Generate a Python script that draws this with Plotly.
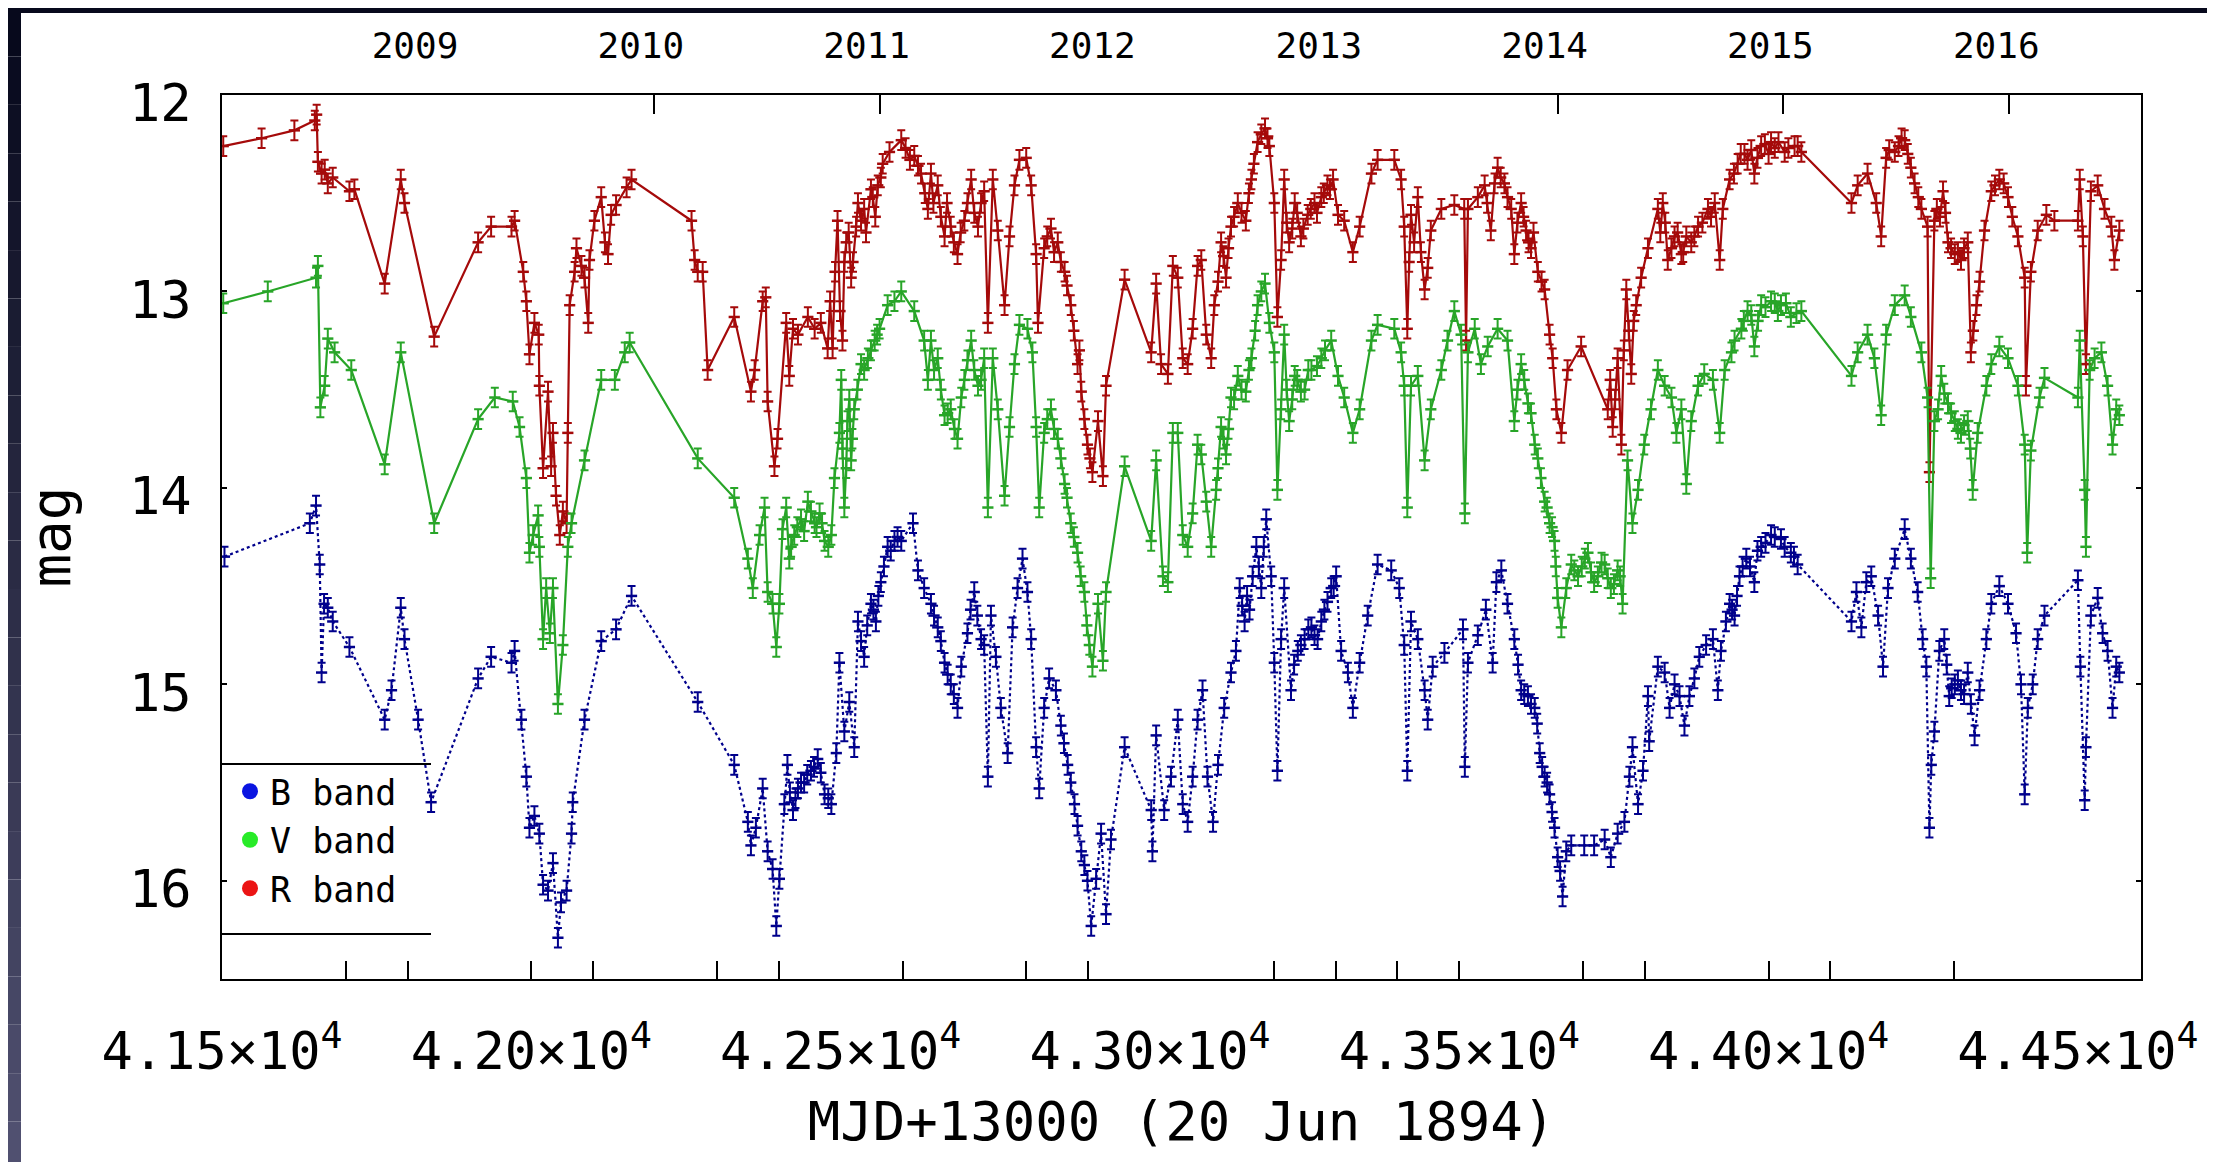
import datetime as dt
import plotly.graph_objects as go

# ---------------- data ----------------
R_x = [41502,41564,41617,41650,41653,41655,41661,41666,41671,41679,41706,41714,41763,41789,41795,41843,
       41914,41935,41968,41973,41987,41992,41997,42005,42012,42013,42019,42027,42032,42035,42040,42046,
       42051,42057,42059,42062,42070,42073,42081,42086,42092,42094,42102,42113,42119,42124,42129,42137,
       42154,42162,42259,42264,
       42269,42277,42285,42328,42355,42361,42374,42379,42382,42393,42398,42412,42417,42423,42431,42447,
       42458,42468,42479,42487,42495,42503,42509,42517,42525,42533,42538,42549,42560,42568,42579,42598,
       42619,42630,42641,42646,42657,42668,42678,42689,42700,42711,42722,42732,42738,42746,42754,42765,
       42773,42781,42789,42800,42808,42816,42819,42829,42840,42851,42862,42872,42883,42889,42899,42907,
       42916,42924,42929,42959,43002,43010,43018,43029,43037,
       43045,43053,43061,43069,43077,43083,43091,43099,43104,43115,43123,43131,43142,43155,43164,43174,
       43186,43193,43201,43206,43212,43217,43225,43234,43244,43255,43266,43277,43287,43296,43304,43314,
       43328,43339,43358,43368,43395,43406,43411,43416,43422,43433,43444,43454,43471,43492,43508,43511,
       43514,43530,43541,43551,43562,43573,43584,43589,43600,43608,43616,43627,43638,43646,43651,43657,
       43665,43675,43697,43740,43748,43756,43762,43770,43778,43786,43794,43805,
       43821,43829,43837,43848,43859,43867,43875,43886,43902,43913,43921,43926,43937,43950,43961,43977,
       43988,44004,44026,44042,44053,44134,44144,44160,44174,44182,44190,44204,44220,44230,44247,44257,
       44260,44268,44282,44290,44301,44311,44322,44327,44336,44349,44360,44373,44387,44403,44414,44416,
       44424,44435,44449,44462,44500,44503,44508,44513,44521,44532,44543,44554,44559,44567]
R_mag = [12.26,12.22,12.18,12.13,12.10,12.34,12.40,12.38,12.45,12.42,12.49,12.48,12.96,12.43,12.55,13.23,
         12.75,12.67,12.67,12.64,12.90,13.05,13.32,13.16,13.22,13.48,13.90,13.51,13.89,13.72,14.04,14.24,
         14.12,14.18,13.72,13.07,12.90,12.78,12.87,12.93,13.16,12.84,12.64,12.52,12.75,12.81,12.61,12.56,
         12.47,12.43,12.64,12.84,
         12.90,12.90,13.40,13.13,13.51,13.40,13.05,13.03,13.56,13.89,13.75,13.16,13.43,13.19,13.22,13.13,
         13.19,13.16,13.29,13.29,12.64,13.25,12.75,12.93,12.67,12.64,12.58,12.48,12.46,12.35,12.29,12.23,
         12.31,12.40,12.58,12.40,12.46,12.72,12.67,12.81,12.64,12.43,12.67,12.49,13.16,12.43,12.69,13.07,
         12.72,12.46,12.33,12.32,12.46,12.81,13.16,12.78,12.68,12.75,12.90,13.07,13.37,13.51,13.78,13.92,
         13.66,13.94,13.48,12.94,13.31,12.96,13.37,13.42,12.87,
         12.93,13.34,13.37,13.19,12.87,12.84,13.22,13.34,13.07,12.75,12.93,12.67,12.55,12.64,12.43,12.24,
         12.17,12.26,12.55,13.13,12.84,12.43,12.75,12.55,12.72,12.61,12.55,12.52,12.46,12.43,12.61,12.64,
         12.80,12.67,12.40,12.33,12.33,12.43,12.67,13.19,12.61,12.52,12.99,12.69,12.58,12.56,12.58,13.25,
         12.58,12.52,12.46,12.69,12.37,12.45,12.58,12.81,12.55,12.69,12.78,12.90,12.99,13.22,13.34,13.60,
         13.72,13.40,13.28,13.60,13.69,13.34,13.78,12.99,13.42,13.07,12.93,12.78,
         12.58,12.55,12.84,12.72,12.81,12.72,12.75,12.67,12.58,12.55,12.84,12.58,12.43,12.35,12.30,12.40,
         12.26,12.24,12.29,12.26,12.29,12.55,12.46,12.40,12.55,12.72,12.32,12.29,12.23,12.37,12.58,12.67,
         13.92,12.64,12.49,12.75,12.81,12.84,12.75,13.31,13.07,12.69,12.49,12.43,12.52,12.72,12.93,13.48,
         12.90,12.69,12.61,12.64,12.64,12.43,12.72,13.37,12.49,12.46,12.58,12.67,12.84,12.69]
# additional R observations in the densely sampled stretches
R_extra_x = [42483,42491,42499,42506,42513,42520,42528,42541,42552,42556,42565,
             42605,42612,42625,42636,42650,42662,42672,42683,42694,42705,42716,42727,
             42834,42845,42856,42866,42877,42886,42894,42903,
             43110,43119,43127,43136,43148,43160,43168,43180,43190,
             43221,43230,43238,43248,43260,43270,43281,43291,
             43419,43427,43438,43449,
             43545,43557,43567,43578,43594,43604,43612,43620,43633,
             43744,43752,43766,43774,43782,
             43825,43833,43843,43853,43862,43880,43893,43907,
             43944,43955,43966,43972,43982,43994,44000,44010,44016,44032,44047,
             44195,44210,44215,44225,44236,44242,
             44272,44277,44286,44295,44306,44316,44331,44341,
             44366,44380,44394]
R_extra_mag = [13.05,12.90,13.10,12.85,12.70,12.85,12.55,12.70,12.52,12.62,12.42,
               12.27,12.33,12.36,12.50,12.55,12.62,12.55,12.75,12.70,12.55,12.60,12.55,
               12.72,12.80,12.85,12.97,13.20,13.30,13.65,13.85,
               12.95,12.82,12.78,12.62,12.60,12.50,12.35,12.20,12.22,
               12.65,12.68,12.60,12.68,12.58,12.60,12.50,12.48,
               12.85,12.75,12.80,12.88,
               12.55,12.45,12.42,12.52,12.65,12.62,12.75,12.70,12.95,
               13.45,13.55,13.30,13.20,13.15,
               12.70,12.65,12.78,12.70,12.80,12.72,12.65,12.62,
               12.40,12.30,12.33,12.28,12.32,12.25,12.30,12.27,12.24,12.27,12.26,
               12.28,12.26,12.22,12.30,12.45,12.52,
               12.58,12.62,12.60,12.78,12.80,12.78,13.20,12.95,
               12.46,12.45,12.62]

V_x = [41502,41574,41652,41655,41659,41666,41671,41682,41709,41763,41789,41843,41914,41941,41970,41981,
       41992,41997,42003,42011,42013,42019,42024,42030,42035,42043,42051,42059,42065,42086,42113,42135,
       42151,42159,
       42269,42328,42350,42358,42369,42377,42382,42390,42396,42401,42406,42412,42417,42425,42436,42447,
       42458,42466,42474,42485,42490,42498,42501,42506,42511,42517,42522,42533,42544,42555,42563,42576,
       42587,42598,42619,42635,42641,42646,42657,42668,42678,42689,42695,42711,42722,42732,42738,42746,
       42754,42765,42773,42781,42789,42802,42810,42816,42821,42829,42840,42851,42862,42872,42883,42894,
       42902,42907,42916,42924,42929,42959,43002,43010,43021,43029,43037,
       43045,43053,43061,43069,43077,43083,43091,43099,43107,43115,43123,43131,43142,43155,43164,43174,
       43186,43193,43201,43206,43212,43217,43225,43234,43244,43261,43277,43293,43304,43314,43328,43339,
       43358,43368,43395,43406,43411,43416,43422,43433,43444,43454,43471,43481,43492,43503,43509,43514,
       43525,43535,43546,43562,43578,43589,43600,43611,43622,43632,43638,43646,43654,43659,43665,43673,
       43681,43692,43708,43718,43735,43745,43756,43764,43772,43780,43789,43799,43810,
       43821,43832,43843,43851,43859,43867,43875,43886,43896,43910,43921,43929,43940,43956,43966,43977,
       43988,44004,44020,44036,44053,44134,44144,44160,44171,44182,44190,44204,44220,44230,44247,44257,
       44262,44268,44279,44290,44301,44311,44322,44330,44338,44352,44360,44373,44387,44403,44414,44418,
       44424,44438,44446,44500,44503,44511,44513,44519,44527,44538,44548,44556,44562,44567]
V_mag = [13.06,13.00,12.93,12.87,13.59,13.48,13.24,13.31,13.40,13.88,13.31,14.18,13.65,13.54,13.56,13.69,
         13.95,14.33,14.24,14.14,14.30,14.77,14.51,14.74,14.51,15.10,14.80,14.30,14.18,13.86,13.45,13.45,
         13.31,13.26,
         13.85,14.05,14.36,14.51,14.24,14.10,14.53,14.59,14.81,14.59,14.21,14.10,14.36,14.24,14.16,14.07,
         14.18,14.13,14.27,14.24,13.95,13.72,13.45,14.10,13.66,13.86,13.60,13.37,13.34,13.25,13.19,13.07,
         13.05,13.00,13.10,13.25,13.45,13.25,13.34,13.63,13.60,13.75,13.54,13.25,13.48,13.34,14.10,13.34,
         13.60,14.04,13.69,13.37,13.17,13.19,13.31,13.69,14.10,13.72,13.60,13.75,13.98,14.18,14.33,14.53,
         14.80,14.91,14.59,14.88,14.53,13.89,14.27,13.86,14.45,14.48,13.72,
         13.72,14.24,14.30,14.13,13.78,13.83,14.07,14.30,14.01,13.69,13.83,13.54,13.43,13.51,13.34,13.07,
         12.96,13.16,13.31,14.01,13.60,13.22,13.66,13.43,13.51,13.40,13.34,13.25,13.43,13.54,13.72,13.60,
         13.25,13.17,13.19,13.31,13.48,14.10,13.48,13.43,13.86,13.60,13.40,13.25,13.10,13.22,14.13,13.31,
         13.19,13.37,13.28,13.19,13.25,13.66,13.37,13.57,13.78,13.95,14.07,14.18,14.27,14.56,14.71,14.51,
         14.39,14.45,14.33,14.48,14.39,14.51,14.42,14.59,13.86,14.18,14.01,13.78,13.60,
         13.40,13.48,13.54,13.72,13.60,13.98,13.66,13.48,13.42,13.45,13.72,13.40,13.31,13.19,13.10,13.28,
         13.07,13.05,13.07,13.13,13.10,13.43,13.31,13.22,13.34,13.63,13.22,13.07,13.02,13.13,13.31,13.54,
         14.46,13.66,13.43,13.57,13.66,13.72,13.66,14.01,13.72,13.48,13.37,13.28,13.34,13.48,13.78,14.33,
         13.81,13.54,13.44,13.54,13.25,14.01,14.30,13.40,13.34,13.31,13.48,13.78,13.60,13.63]
V_extra_x = [42420,42430,42441,42452,42461,42470,42480,
             42503,42509,42514,42519,42527,42538,42549,42559,
             42651,42662,42673,42684,42700,42705,42716,42727,
             42834,42845,42856,42866,42877,42888,42898,
             43110,43119,43127,43136,43148,43160,43170,43180,
             43221,43230,43238,43250,43256,43270,43283,
             43594,43605,43616,43627,43642,43650,43656,
             43686,43698,43703,43713,43724,43730,43740,43750,43760,
             43945,43960,43972,43983,43995,44010,44015,44028,44045,
             44274,44284,44295,44306,44316,44326]
V_extra_mag = [14.30,14.20,14.22,14.12,14.20,14.18,14.30,
               13.80,13.90,13.55,13.75,13.50,13.40,13.30,13.22,
               13.40,13.50,13.62,13.70,13.45,13.35,13.40,13.45,
               13.65,13.70,13.85,14.05,14.25,14.45,14.70,
               13.90,13.75,13.70,13.55,13.50,13.40,13.20,13.00,
               13.50,13.55,13.45,13.50,13.40,13.38,13.30,
               13.50,13.45,13.62,13.85,14.10,14.20,14.40,
               14.42,14.40,14.36,14.43,14.45,14.38,14.46,14.49,14.45,
               13.25,13.15,13.12,13.15,13.08,13.06,13.10,13.06,13.11,
               13.60,13.52,13.62,13.70,13.68,13.80]

B_x = [41504,41642,41652,41658,41661,41665,41671,41679,41706,41763,41774,41789,41795,41817,41838,41914,
       41935,41968,41973,41984,41992,41997,42005,42013,42019,42027,42035,42043,42048,42057,42065,42067,
       42086,42113,42137,42162,
       42269,42328,42350,42355,42363,42374,42382,42390,42396,42401,42409,42414,42423,42431,42441,42452,
       42463,42474,42485,42493,42498,42506,42514,42522,42528,42538,42549,42557,42565,42576,42587,42598,
       42617,42625,42635,42646,42657,42668,42678,42689,42695,42705,42716,42727,42738,42743,42751,42759,
       42770,42778,42786,42794,42802,42808,42816,42821,42829,42837,42848,42856,42867,42878,42889,42899,
       42905,42913,42921,42929,42937,42959,43002,43004,43010,43023,43034,
       43045,43053,43061,43069,43077,43085,43093,43102,43110,43120,43131,43139,43145,43153,43161,43172,
       43180,43188,43196,43201,43206,43212,43217,43228,43239,43250,43261,43271,43282,43293,43301,43309,
       43320,43328,43339,43352,43368,43390,43403,43411,43416,43422,43433,43444,43449,43457,43476,43506,
       43509,43514,43530,43543,43554,43560,43568,43578,43589,43600,43611,43622,43630,43638,43646,43654,
       43659,43667,43673,43681,43702,43718,43735,43745,43756,43767,43775,43780,43789,43797,43805,43807,
       43821,43832,43840,43848,43856,43864,43872,43880,43888,43899,43910,43918,43923,43931,43937,43945,
       43953,43964,43977,43988,44004,44020,44036,44047,44134,44142,44150,44158,44166,44177,44185,44193,
       44204,44220,44230,44241,44249,44255,44260,44263,44268,44276,44284,44292,44301,44311,44322,44333,
       44341,44352,44360,44373,44387,44400,44408,44414,44419,44427,44435,44446,44500,44504,44511,44513,
       44521,44532,44540,44548,44556,44562,44567]
B_mag = [14.35,14.18,14.09,14.39,14.94,14.59,14.61,14.68,14.81,15.18,15.03,14.61,14.77,15.18,15.60,14.97,
         14.86,14.89,14.83,15.18,15.47,15.73,15.67,15.76,16.02,16.05,15.91,16.29,16.11,16.05,15.76,15.60,
         15.18,14.78,14.72,14.55,
         15.09,15.41,15.70,15.82,15.73,15.53,15.85,15.94,16.23,15.99,15.61,15.41,15.64,15.53,15.50,15.44,
         15.38,15.56,15.61,15.35,14.89,15.24,15.09,15.32,14.68,14.86,14.59,14.68,14.48,14.30,14.27,14.27,
         14.18,14.42,14.51,14.59,14.71,14.89,15.00,15.12,14.91,14.74,14.53,14.77,15.47,14.65,14.86,15.12,
         15.35,14.71,14.51,14.36,14.53,14.77,15.32,15.53,15.12,14.97,15.03,15.21,15.41,15.61,15.85,16.00,
         16.23,15.99,15.76,16.17,15.79,15.32,15.64,15.85,15.26,15.64,15.47,
         15.18,15.61,15.70,15.47,15.18,15.03,15.47,15.70,15.41,15.12,14.94,14.83,14.51,14.68,14.62,14.30,
         14.51,14.16,14.45,14.89,15.44,14.77,14.51,15.03,14.83,14.77,14.71,14.77,14.62,14.51,14.45,14.83,
         14.94,15.12,14.89,14.65,14.39,14.42,14.51,14.80,15.44,14.68,14.77,15.03,15.18,14.91,14.84,14.72,
         15.42,14.89,14.75,14.62,14.89,14.48,14.42,14.59,14.77,15.03,15.06,15.12,15.35,15.47,15.56,15.73,
         15.88,16.08,15.85,15.82,15.82,15.82,15.79,15.88,15.76,15.70,15.47,15.32,15.61,15.44,15.06,15.29,
         14.91,14.94,15.12,15.00,15.06,15.21,15.06,14.97,14.86,14.80,14.77,15.03,14.83,14.68,14.59,14.65,
         14.45,14.36,14.48,14.30,14.24,14.26,14.33,14.39,14.68,14.53,14.71,14.48,14.45,14.65,14.91,14.51,
         14.36,14.21,14.36,14.53,14.77,14.91,15.73,15.41,15.24,14.83,14.77,15.06,15.00,15.03,14.94,15.26,
         15.03,14.77,14.59,14.50,14.59,14.74,15.00,15.56,15.12,15.00,14.77,14.65,14.47,14.91,15.59,15.32,
         14.65,14.56,14.74,14.83,15.12,14.91,14.94]
B_extra_x = [42418,42427,42436,42446,42457,42468,42480,
             42533,42543,42553,42561,42570,42581,42592,
             42651,42662,42673,42683,
             42710,42721,42732,
             42861,42872,42883,42894,
             43149,43157,43166,43176,43184,
             43233,43244,43256,43266,43277,43287,43297,
             43595,43605,43616,43626,43634,43642,43650,43663,
             43941,43949,43958,43970,43982,43995,44010,44026,44041,
             44288,44296,44306,44316,44327]
B_extra_mag = [15.55,15.58,15.50,15.46,15.42,15.45,15.58,
               14.78,14.70,14.62,14.55,14.40,14.32,14.25,
               14.65,14.78,14.95,15.05,
               14.62,14.65,14.80,
               15.30,15.50,15.72,15.92,
               14.60,14.55,14.45,14.40,14.30,
               14.90,14.80,14.72,14.75,14.68,14.58,14.50,
               14.90,15.05,15.10,15.20,15.42,15.50,15.65,15.95,
               14.62,14.55,14.40,14.40,14.32,14.28,14.25,14.30,14.35,
               14.90,15.02,14.98,15.05,15.10]

MAG_ERR = 0.05

x_label_vals = [41500, 42000, 42500, 43000, 43500, 44000, 44500]
x_label_text = ["4.15×10<sup>4</sup>", "4.20×10<sup>4</sup>", "4.25×10<sup>4</sup>", "4.30×10<sup>4</sup>",
                "4.35×10<sup>4</sup>", "4.40×10<sup>4</sup>", "4.45×10<sup>4</sup>"]
x_minor_ticks = [41700, 41800, 42000, 42100, 42300, 42400, 42600, 42800, 42900, 43200, 43300, 43400,
                 43500, 43700, 43800, 44000, 44100, 44300]
y_tick_vals = [12, 13, 14, 15, 16]
years = [2009, 2010, 2011, 2012, 2013, 2014, 2015, 2016]
years_with_tick = [2010, 2011, 2014, 2015, 2016]
EPOCH = dt.date(1894, 6, 20)
def year_pos(y):
    return (dt.date(y, 1, 1) - EPOCH).days

X_RANGE = [41500, 44602]
Y_RANGE = [16.5, 12.0]

def merged(xs, ys, xe, ye):
    pts = sorted(zip(list(xs) + list(xe), list(ys) + list(ye)), key=lambda p: p[0])
    return [p[0] for p in pts], [p[1] for p in pts]

# ---------------- figure geometry ----------------
W, H = 2215, 1162
ML, MR, MT, MB = 214, 82, 87, 191
PW, PH = W - ML - MR, H - MT - MB
def px(xp):
    return (xp - ML) / PW
def py(yp):
    return (H - MB - yp) / PH

FONT = "DejaVu Sans Mono"
R_LINE, V_LINE, B_LINE = "rgb(165,10,10)", "rgb(40,165,40)", "rgb(0,0,140)"

fig = go.Figure()

def add_band(xs, ys, color, dash, name):
    fig.add_trace(go.Scatter(
        x=xs, y=ys, mode="lines+markers", name=name, showlegend=False,
        line=dict(color=color, width=2.2, dash=dash),
        marker=dict(symbol="line-ew", size=8, line=dict(color=color, width=2.5)),
        error_y=dict(type="constant", value=MAG_ERR, color=color, thickness=2, width=4),
    ))

add_band(*merged(R_x, R_mag, R_extra_x, R_extra_mag), R_LINE, "solid", "R")
add_band(*merged(V_x, V_mag, V_extra_x, V_extra_mag), V_LINE, "solid", "V")
add_band(*merged(B_x, B_mag, B_extra_x, B_extra_mag), B_LINE, "dot", "B")

# legend entries
for nm, col in [("B band", "rgb(10,20,225)"), ("V band", "rgb(40,235,40)"), ("R band", "rgb(235,20,20)")]:
    fig.add_trace(go.Scatter(x=[None], y=[None], mode="markers", name=nm,
                             marker=dict(color=col, size=16, symbol="circle")))

# dummy traces for overlay axes
for ax in ["x2", "x3", "x4"]:
    fig.add_trace(go.Scatter(x=[None], y=[None], xaxis=ax, yaxis="y", showlegend=False, hoverinfo="skip"))

axis_font = dict(family=FONT, size=52, color="black")

fig.update_layout(
    width=W, height=H, autosize=False,
    margin=dict(l=ML, r=MR, t=MT, b=MB, pad=0),
    paper_bgcolor="white", plot_bgcolor="white",
    font=dict(family=FONT, color="black"),
    xaxis=dict(range=X_RANGE, tickvals=x_label_vals, ticktext=x_label_text, ticks="",
               showgrid=False, zeroline=False, showline=True, linecolor="black", linewidth=2,
               mirror=True, tickfont=axis_font, ticklabelstandoff=26,
               title=dict(text="MJD+13000 (20 Jun 1894)", font=dict(family=FONT, size=54), standoff=22)),
    xaxis3=dict(range=X_RANGE, overlaying="x", side="bottom", anchor="y", tickvals=x_minor_ticks,
                ticks="inside", ticklen=18, tickwidth=1.6, tickcolor="black", showticklabels=False,
                showgrid=False, zeroline=False, showline=False),
    xaxis2=dict(range=X_RANGE, overlaying="x", side="top", anchor="y",
                tickvals=[year_pos(y) for y in years], ticktext=[str(y) for y in years],
                ticks="", showgrid=False, zeroline=False, showline=False,
                tickfont=dict(family=FONT, size=36, color="black"), ticklabelstandoff=29,
                ticklabelshift=-13),
    xaxis4=dict(range=X_RANGE, overlaying="x", side="top", anchor="y",
                tickvals=[year_pos(y) for y in years_with_tick], ticks="inside", ticklen=19,
                tickwidth=1.6, tickcolor="black", showticklabels=False, showgrid=False,
                zeroline=False, showline=False),
    yaxis=dict(range=Y_RANGE, tickvals=y_tick_vals, ticks="inside", ticklen=5, tickwidth=1.6,
               tickcolor="black", showgrid=False, zeroline=False, showline=True, linecolor="black",
               linewidth=2, mirror="ticks", tickfont=axis_font, ticklabelstandoff=18, ticklabelshift=-8,
               title=dict(text="mag", font=dict(family=FONT, size=56), standoff=40)),
    legend=dict(x=px(222), y=py(754), xanchor="left", yanchor="top", bgcolor="rgba(0,0,0,0)",
                borderwidth=0, font=dict(family=FONT, size=35, color="black"), itemsizing="trace",
                tracegroupgap=0),
)

shapes = []
# legend box lines
for yy in (756, 926):
    shapes.append(dict(type="line", xref="paper", yref="paper", x0=px(214), x1=px(423), y0=py(yy), y1=py(yy),
                       line=dict(color="black", width=2)))
# dark slide frame (gradient strips)
def lerp(c1, c2, t):
    return "rgb(%d,%d,%d)" % tuple(round(a + (b - a) * t) for a, b in zip(c1, c2))
TOP_C, BOT_C = (7, 9, 28), (80, 80, 112)
N = 24
for i in range(N):
    y0, y1 = H * i / N, H * (i + 1) / N
    col = lerp(TOP_C, BOT_C, i / (N - 1))
    for xa, xb in ((0, 13), (2209, W)):
        shapes.append(dict(type="rect", xref="paper", yref="paper", x0=px(xa), x1=px(xb),
                           y0=py(y1), y1=py(y0), line=dict(width=0), fillcolor=col, layer="above"))
shapes.append(dict(type="rect", xref="paper", yref="paper", x0=px(0), x1=px(W), y0=py(5), y1=py(0),
                   line=dict(width=0), fillcolor="rgb(7,9,28)", layer="above"))
fig.update_layout(shapes=shapes)

fig.write_html("out.html")
